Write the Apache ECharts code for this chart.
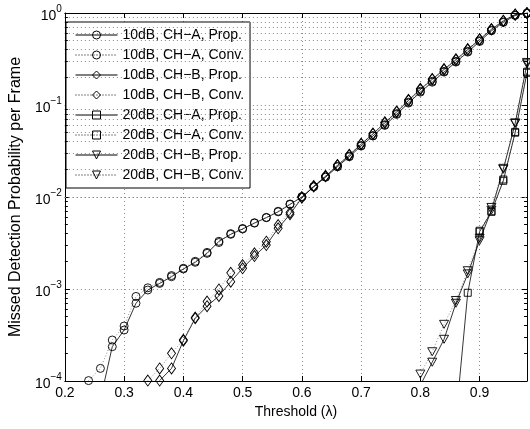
<!DOCTYPE html>
<html>
<head>
<meta charset="utf-8">
<script src="https://cdn.jsdelivr.net/npm/echarts@6/dist/echarts.min.js"></script>
<style>
html,body{margin:0;padding:0;background:#fff;}
#chart{width:530px;height:429px;}
</style>
</head>
<body>
<div id="chart"></div>
<script>
// ---------- data ----------
const thresholds = [0.20,0.22,0.24,0.26,0.28,0.30,0.32,0.34,0.36,0.38,
                    0.40,0.42,0.44,0.46,0.48,0.50,0.52,0.54,0.56,0.58,
                    0.60,0.62,0.64,0.66,0.68,0.70,0.72,0.74,0.76,0.78,
                    0.80,0.82,0.84,0.86,0.88,0.90,0.92,0.94,0.96,0.98];

const seriesNames = ['10dB, CH\u2212A, Prop.','10dB, CH\u2212A, Conv.','10dB, CH\u2212B, Prop.','10dB, CH\u2212B, Conv.',
                     '20dB, CH\u2212A, Prop.','20dB, CH\u2212A, Conv.','20dB, CH\u2212B, Prop.','20dB, CH\u2212B, Conv.'];

const snr10_chA_prop = [null,null,null,6.3e-5,2.36e-4,3.58e-4,7.0e-4,9.75e-4,1.15e-3,1.36e-3,
  1.65e-3,1.95e-3,2.44e-3,3.3e-3,3.93e-3,4.49e-3,5.2e-3,5.96e-3,6.9e-3,8.3e-3,
  1.0e-2,1.29e-2,1.64e-2,2.13e-2,2.74e-2,3.58e-2,4.6e-2,6.0e-2,7.9e-2,0.105,
  0.138,0.177,0.228,0.293,0.376,0.49,0.64,0.79,0.94,0.995];
const snr10_chA_conv = [null,null,1.01e-4,1.37e-4,2.79e-4,3.96e-4,8.3e-4,1.03e-3,1.18e-3,1.4e-3,
  1.68e-3,2.0e-3,2.5e-3,3.2e-3,4.0e-3,4.55e-3,5.25e-3,6.0e-3,7.0e-3,8.4e-3,
  1.01e-2,1.3e-2,1.66e-2,2.15e-2,2.78e-2,3.62e-2,4.65e-2,6.1e-2,8.05e-2,0.107,
  0.141,0.181,0.232,0.298,0.383,0.5,0.65,0.8,0.95,0.995];
const snr10_chB_prop = [null,null,null,null,null,null,null,null,1.01e-4,1.37e-4,
  2.74e-4,4.8e-4,6.5e-4,8.4e-4,1.2e-3,1.68e-3,2.28e-3,3.0e-3,4.57e-3,6.5e-3,
  9.8e-3,1.3e-2,1.68e-2,2.2e-2,2.85e-2,3.75e-2,4.85e-2,6.4e-2,8.4e-2,0.112,
  0.148,0.19,0.243,0.31,0.4,0.515,0.665,0.82,0.96,0.998];
const snr10_chB_conv = [null,null,null,null,null,null,null,1.01e-4,1.37e-4,2.0e-4,
  2.8e-4,4.9e-4,7.3e-4,9.9e-4,1.5e-3,1.82e-3,2.44e-3,3.27e-3,4.96e-3,6.8e-3,
  1.0e-2,1.32e-2,1.7e-2,2.23e-2,2.88e-2,3.8e-2,4.9e-2,6.5e-2,8.5e-2,0.114,
  0.15,0.192,0.246,0.315,0.405,0.52,0.67,0.825,0.965,0.998];
const snr20_chA_prop = [null,null,null,null,null,null,null,null,null,null,
  null,null,null,null,null,null,null,null,null,null,
  null,null,null,null,null,null,null,null,null,null,
  null,null,null,3.9e-5,9.1e-4,4.2e-3,6.9e-3,1.5e-2,5.0e-2,0.224];
const snr20_chA_conv = [null,null,null,null,null,null,null,null,null,null,
  null,null,null,null,null,null,null,null,null,null,
  null,null,null,null,null,null,null,null,null,null,
  null,null,null,null,null,4.3e-3,7.0e-3,1.55e-2,5.1e-2,0.23];
const snr20_chB_prop = [null,null,null,null,null,null,null,null,null,null,
  null,null,null,null,null,null,null,null,null,null,
  null,null,null,null,null,null,null,null,null,null,
  9.0e-5,1.6e-4,2.84e-4,7.0e-4,1.46e-3,3.35e-3,7.2e-3,2.0e-2,6.3e-2,0.28];
const snr20_chB_conv = [null,null,null,null,null,null,null,null,null,null,
  null,null,null,null,null,null,null,null,null,null,
  null,null,null,null,null,null,null,null,null,null,
  1.19e-4,2.08e-4,4.13e-4,7.5e-4,1.58e-3,3.56e-3,7.7e-3,2.05e-2,6.4e-2,0.29];

const xTicks = [0.2,0.3,0.4,0.5,0.6,0.7,0.8,0.9];
const yDecades = [1e-4,1e-3,1e-2,1e-1,1];
const minorMultipliers = [2,3,4,5,6,7,8,9];

// ---------- chart ----------
const FONT = '"Liberation Sans", Arial, Helvetica, sans-serif';
const X_MIN = 0.2, X_MAX = 0.98, Y_MIN = 1e-4, Y_MAX = 1;

function pairs(vals){ return thresholds.map((x,i)=>[x, vals[i]]).filter(p=>p[1]!=null); }

const markerDefs = [
  {symbol:'circle', size:8, rotate:0},
  {symbol:'circle', size:8, rotate:0},
  {symbol:'diamond', size:[8,11], rotate:0},
  {symbol:'diamond', size:[8,11], rotate:0},
  {symbol:'rect', size:7, rotate:0},
  {symbol:'rect', size:7, rotate:0},
  {symbol:'triangle', size:[9,8], rotate:180},
  {symbol:'triangle', size:[9,8], rotate:180}
];
const allVals = [snr10_chA_prop,snr10_chA_conv,snr10_chB_prop,snr10_chB_conv,
                 snr20_chA_prop,snr20_chA_conv,snr20_chB_prop,snr20_chB_conv];

const series = allVals.map((vals,i)=>{
  const dotted = (i % 2) === 1;
  return {
    name: seriesNames[i],
    type: 'line',
    data: pairs(vals),
    clip: true,
    symbol: markerDefs[i].symbol,
    symbolSize: markerDefs[i].size,
    symbolRotate: markerDefs[i].rotate,
    showAllSymbol: true,
    lineStyle: dotted ? {color:'#444', width:0.6, type:[1,2]} : {color:'#000', width:0.8, type:'solid'},
    itemStyle: {color:'rgba(255,255,255,0)', borderColor:'#000', borderWidth:0.9},
    emphasis: {disabled:true},
    z: 5
  };
});

// minor grid lines & minor ticks (on log axis) via markLine
const minorVals = [];
yDecades.slice(0,4).forEach(d=>minorMultipliers.forEach(m=>minorVals.push(m*d)));
const tickLenX = 3/600;
const minorTickLines = [];
minorVals.forEach(v=>{
  minorTickLines.push([{coord:[X_MIN, v]},{coord:[X_MIN+tickLenX, v]}]);
  minorTickLines.push([{coord:[X_MAX-tickLenX, v]},{coord:[X_MAX, v]}]);
});
series.push({
  type:'line', name:'_grid', data:[], silent:true, z:1,
  markLine:{silent:true, symbol:'none', animation:false, label:{show:false},
    lineStyle:{type:[1,3], color:'#8a8a8a', width:1},
    emphasis:{disabled:true},
    data: minorVals.map(v=>({yAxis:v}))}
});
series.push({
  type:'line', name:'_ticks', data:[], silent:true, z:6,
  markLine:{silent:true, symbol:'none', animation:false, label:{show:false},
    lineStyle:{type:'solid', color:'#000', width:1},
    emphasis:{disabled:true},
    data: minorTickLines}
});

const option = {
  animation:false,
  backgroundColor:'#fff',
  textStyle:{fontFamily:FONT},
  grid:{left:59, right:3, top:13, bottom:48, show:false},
  legend:{
    data: seriesNames,
    orient:'vertical', left:66, top:22,
    padding:[6,6,6,9], itemGap:6, itemWidth:42, itemHeight:10,
    backgroundColor:'#fff', borderColor:'#000', borderWidth:1,
    textStyle:{fontSize:14, color:'#000', fontFamily:FONT},
    lineStyle:{width:1, color:'#000'},
    itemStyle:{borderWidth:1, borderColor:'#000'},
    selectedMode:false
  },
  xAxis:[{
    type:'value', min:X_MIN, max:X_MAX, interval:0.1,
    name:'Threshold (\u03bb)', nameLocation:'middle', nameGap:21,
    nameTextStyle:{fontSize:14, color:'#000', fontFamily:FONT},
    axisLine:{show:true, lineStyle:{color:'#000', width:1}},
    axisTick:{show:true, inside:true, length:5, lineStyle:{color:'#000'}},
    axisLabel:{fontSize:14, color:'#000', margin:5, showMaxLabel:false,
      formatter:v=> xTicks.some(t=>Math.abs(t-v)<1e-9) ? v.toFixed(1) : ''},
    splitLine:{show:true, lineStyle:{type:[1,3], color:'#8a8a8a', width:1}}
  },{
    type:'value', min:X_MIN, max:X_MAX, interval:0.1, position:'top',
    axisLine:{show:true, lineStyle:{color:'#000', width:1}},
    axisTick:{show:true, inside:true, length:5, lineStyle:{color:'#000'}},
    axisLabel:{show:false}, splitLine:{show:false}
  }],
  yAxis:[{
    type:'log', logBase:10, min:Y_MIN, max:Y_MAX,
    name:'Missed Detection Probability per Frame', nameLocation:'middle', nameGap:38,
    nameTextStyle:{fontSize:16, color:'#000', fontFamily:FONT},
    axisLine:{show:true, lineStyle:{color:'#000', width:1}},
    axisTick:{show:true, inside:true, length:5, lineStyle:{color:'#000'}},
    axisLabel:{margin:3, color:'#000',
      formatter:v=>{ const e = Math.round(Math.log10(v)); return '{b|10}{s|' + (e<0 ? '\u2212'+(-e) : e) + '}'; },
      rich:{ b:{fontSize:14, color:'#000', fontFamily:FONT, padding:[6,0,0,0]},
             s:{fontSize:10, color:'#000', fontFamily:FONT, padding:[0,0,8,0]} }},
    splitLine:{show:true, lineStyle:{type:[1,3], color:'#8a8a8a', width:1}},
    minorTick:{show:false}
  },{
    type:'log', logBase:10, min:Y_MIN, max:Y_MAX, position:'right',
    axisLine:{show:true, lineStyle:{color:'#000', width:1}},
    axisTick:{show:true, inside:true, length:5, lineStyle:{color:'#000'}},
    axisLabel:{show:false}, splitLine:{show:false}
  }],
  series: series
};

const chart = echarts.init(document.getElementById('chart'), null, {renderer:'canvas'});
chart.setOption(option);
</script>
</body>
</html>
